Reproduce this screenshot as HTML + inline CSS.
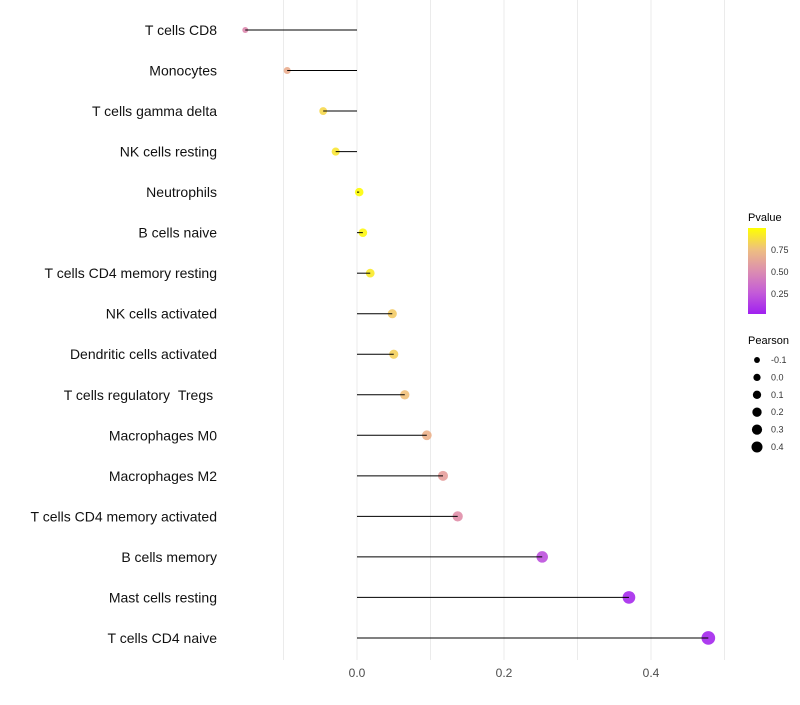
<!DOCTYPE html>
<html><head><meta charset="utf-8"><style>
body{margin:0;background:#fff;font-family:"Liberation Sans",sans-serif}
</style></head><body>
<svg id="chart" width="800" height="700" xmlns="http://www.w3.org/2000/svg" font-family="Liberation Sans, sans-serif">
<defs><linearGradient id="pg" x1="0" y1="1" x2="0" y2="0">
<stop offset="0" stop-color="#A020F0"/><stop offset="0.25" stop-color="#C45CD8"/><stop offset="0.5" stop-color="#DC8EB0"/><stop offset="0.75" stop-color="#EEBF80"/><stop offset="1" stop-color="#FFFF00"/></linearGradient></defs>
<g id="grid"></g><g id="marks"></g><g id="stems"></g><g id="labels"></g>
<g>
<text x="748" y="221" font-size="11" fill="#000">Pvalue</text>
<rect x="748" y="228" width="18" height="86" fill="url(#pg)"/>
<text x="771" y="253" font-size="9" fill="#333">0.75</text>
<text x="771" y="275" font-size="9" fill="#333">0.50</text>
<text x="771" y="297" font-size="9" fill="#333">0.25</text>
<text x="748" y="344" font-size="11" fill="#000">Pearson</text>
<g id="sizeleg"></g>
</g>
</svg>
<script>
const categories=["T cells CD8","Monocytes","T cells gamma delta","NK cells resting","Neutrophils","B cells naive","T cells CD4 memory resting","NK cells activated","Dendritic cells activated","T cells regulatory\u00a0\u00a0Tregs\u00a0","Macrophages M0","Macrophages M2","T cells CD4 memory activated","B cells memory","Mast cells resting","T cells CD4 naive"];
const pearson=[-0.152,-0.095,-0.046,-0.029,0.003,0.008,0.018,0.048,0.050,0.065,0.095,0.117,0.137,0.252,0.370,0.478];
const pvalues=[0.47,0.66,0.85,0.9,0.99,0.97,0.92,0.8,0.82,0.76,0.68,0.58,0.5,0.2,0.04,0.03];
const xTicks=[0.0,0.2,0.4];
const gridVals=[-0.1,0.0,0.1,0.2,0.3,0.4,0.5];
const sizeLegend=[-0.1,0.0,0.1,0.2,0.3,0.4];
const NS="http://www.w3.org/2000/svg";
const x=v=>357+v*735;
const y=i=>30+i*40.53;
const r=v=>Math.sqrt(Math.max(4,18+60*v));
const stops=[[0,[160,32,240]],[0.25,[196,92,216]],[0.5,[224,142,168]],[0.75,[240,190,128]],[1,[255,255,0]]];
function col(p){for(let k=1;k<stops.length;k++){if(p<=stops[k][0]){const a=stops[k-1],b=stops[k],t=(p-a[0])/(b[0]-a[0]);return 'rgb('+a[1].map((c,j)=>Math.round(c+(b[1][j]-c)*t)).join(',')+')';}}return 'rgb(255,255,0)';}
function mk(t,at,parent){const e=document.createElementNS(NS,t);for(const k in at)e.setAttribute(k,at[k]);parent.appendChild(e);return e;}
const G=document.getElementById('grid'),M=document.getElementById('marks'),ST=document.getElementById('stems'),L=document.getElementById('labels'),S=document.getElementById('sizeleg');
gridVals.forEach(v=>{const l=mk('line',{x1:x(v),x2:x(v),y1:0,y2:660,stroke:'#ebebeb','stroke-width':1},G);

});
xTicks.forEach(v=>{const t=mk('text',{x:x(v),y:677,'font-size':12,'text-anchor':'middle',fill:'#4d4d4d'},L);t.textContent=v.toFixed(1);

});
categories.forEach((c,i)=>{const t=mk('text',{x:217,y:y(i)+5,'font-size':14,'text-anchor':'end',fill:'#111'},L);t.textContent=c;


const d=mk('circle',{cx:x(pearson[i]),cy:y(i),r:r(pearson[i]),fill:col(pvalues[i]),'fill-opacity':0.9},M);


const ln=mk('line',{x1:x(0),x2:x(pearson[i]),y1:y(i),y2:y(i),stroke:'#000','stroke-width':1},ST);

});
sizeLegend.forEach((v,k)=>{const cy=360+k*17.4;const d=mk('circle',{cx:757,cy:cy,r:r(v)*0.85,fill:'#000'},S);


const t=mk('text',{x:771,y:cy+3,'font-size':9,fill:'#333'},S);t.textContent=v.toFixed(1);

});
</script>
</body></html>
